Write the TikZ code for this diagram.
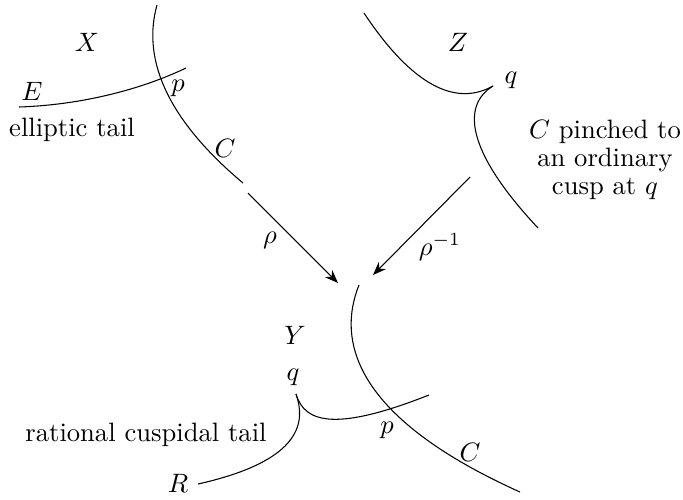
\documentclass[tikz,border=0pt]{standalone}
\usepackage{amsmath,amssymb}
\usetikzlibrary{arrows.meta}
\begin{document}
\begin{tikzpicture}[x=0.376pt, y=-0.376pt, >={Stealth[length=5pt, width=3.8pt]}]
  \useasboundingbox (0,0) rectangle (683,499);
  % Curve X: C meeting the elliptic tail E at p
  \draw (157,5) .. controls (143,55) and (162,115) .. (243,183);
  \draw (19,107) .. controls (80,105) and (140,90) .. (186,68);
  \node (labX) at (87,42) {$X$};
  \node (labE) at (32,91) {$E$};
  \node (labpX) at (178,88) {$p$};
  \node (labCX) at (225,148) {$C$};
  \node (ell) at (72,130) {elliptic tail};
  % Curve Z: C with an ordinary cusp at q
  \draw (364,13) .. controls (405,75) and (450,110) .. (493,86);
  \draw (493,86) .. controls (462,105) and (465,150) .. (538,228);
  \node (labZ) at (458,42) {$Z$};
  \node (labqZ) at (511,80) {$q$};
  \node[align=center] (pinch) at (605,160) {$C$ pinched to\\[-1.5pt] an ordinary\\[-1.5pt] cusp at $q$};
  % Maps
  \coordinate (rhoA) at (248,193);
  \coordinate (rhoB) at (338,283);
  \coordinate (invA) at (470,177);
  \coordinate (invB) at (373,275);
  \draw[->] (rhoA) -- (rhoB);
  \draw[->] (invA) -- (invB);
  \node (rho) at (270,240) {$\rho$};
  \node (rhoinv) at (440,247) {$\rho^{-1}$};
  % Curve Y: C meeting the rational cuspidal tail R at p
  \draw (359,285) .. controls (335,345) and (360,420) .. (520,492);
  \draw (296,394) .. controls (305,425) and (340,430) .. (429,395);
  \draw (296,394) .. controls (305,420) and (305,460) .. (198,484);
  \node (labY) at (295,335) {$Y$};
  \node (labqY) at (293,377) {$q$};
  \node (labpY) at (387,430) {$p$};
  \node (labCY) at (470,452) {$C$};
  \node (labR) at (178,483) {$R$};
  \node (rat) at (146,435) {rational cuspidal tail};
\end{tikzpicture}
\end{document}
